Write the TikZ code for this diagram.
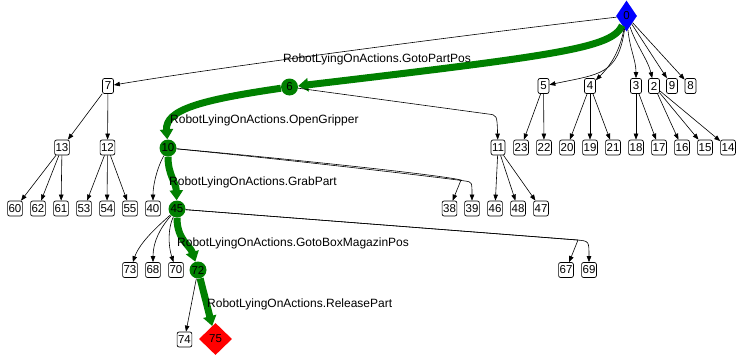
\documentclass[tikz,border=0pt]{standalone}
\usepackage{fontspec}
\setmainfont{Liberation Sans}
\usetikzlibrary{shapes.geometric,arrows.meta}
\definecolor{gvgreen}{RGB}{0,128,0}
\definecolor{gvblue}{RGB}{0,0,255}
\definecolor{gvred}{RGB}{255,0,0}
\begin{document}
\begin{tikzpicture}[x=1pt,y=-1pt,
  nfont/.style={font=\fontsize{11.5}{12}\selectfont},
  box/.style={nfont, draw, rounded corners=2pt, fill=white, minimum height=15pt, minimum width=11pt, inner xsep=1pt, inner ysep=0pt, line width=0.7pt},
  gnode/.style={nfont, circle, fill=gvgreen, minimum size=17pt, inner sep=0pt},
  bdiam/.style={nfont, diamond, fill=gvblue, minimum width=21pt, minimum height=31pt, inner sep=0pt},
  rdiam/.style={nfont, diamond, fill=gvred, minimum width=33pt, minimum height=32pt, inner sep=0pt},
  arr/.style={-{Triangle[length=6pt,width=4.5pt]}, line width=0.6pt},
  garr/.style={-{Triangle[length=10pt,width=13pt]}, line width=7pt, draw=gvgreen, color=gvgreen},
  lbl/.style={anchor=west, font=\fontsize{12}{14}\selectfont, inner sep=0pt}
]
\useasboundingbox (0,0) rectangle (737,356);

% nodes
\node[bdiam] (n0) at (626.5,16) {0};
% row 1
\node[box] (n7) at (108,86) {7};
\node[gnode] (n6) at (289.5,87) {6};
\node[box] (n5) at (543.5,86) {5};
\node[box] (n4) at (590,86) {4};
\node[box] (n3) at (636,86) {3};
\node[box] (n2) at (654,86) {2};
\node[box] (n9) at (672,86) {9};
\node[box] (n8) at (690.5,86) {8};
% row 2
\node[box] (n13) at (62,147.5) {13};
\node[box] (n12) at (107.5,147.5) {12};
\node[gnode] (n10) at (168,148) {10};
\node[box] (n11) at (498,147.5) {11};
\node[box] (n23) at (521,147.5) {23};
\node[box] (n22) at (544,147.5) {22};
\node[box] (n20) at (567,147.5) {20};
\node[box] (n19) at (590,147.5) {19};
\node[box] (n21) at (613,147.5) {21};
\node[box] (n18) at (636,147.5) {18};
\node[box] (n17) at (659,147.5) {17};
\node[box] (n16) at (682,147.5) {16};
\node[box] (n15) at (705,147.5) {15};
\node[box] (n14) at (728,147.5) {14};
% row 3
\node[box] (n60) at (15,208.5) {60};
\node[box] (n62) at (38,208.5) {62};
\node[box] (n61) at (61,208.5) {61};
\node[box] (n53) at (84,208.5) {53};
\node[box] (n54) at (107,208.5) {54};
\node[box] (n55) at (130,208.5) {55};
\node[box] (n40) at (153,208.5) {40};
\node[gnode] (n45) at (177,209) {45};
\node[box] (n38) at (449.5,208.5) {38};
\node[box] (n39) at (472,208.5) {39};
\node[box] (n46) at (495,208.5) {46};
\node[box] (n48) at (518,208.5) {48};
\node[box] (n47) at (541,208.5) {47};
% row 4
\node[box] (n73) at (130,270) {73};
\node[box] (n68) at (153,270) {68};
\node[box] (n70) at (176,270) {70};
\node[gnode] (n72) at (198,270) {72};
\node[box] (n67) at (566,270) {67};
\node[box] (n69) at (589,270) {69};
% row 5
\node[box] (n74) at (184.5,339.5) {74};
\node[rdiam] (n75) at (215.5,339) {75};

% green path
\draw[garr] (n0) .. controls (612,48) and (560,55) .. (n6);
\draw[garr] (n6) .. controls (200,100) and (165,110) .. (n10);
\draw[garr] (n10) .. controls (168,175) and (176,182) .. (n45);
\draw[garr] (n45) .. controls (177,240) and (190,245) .. (n72);
\draw[garr] (n72) -- (n75);

% black edges from 0
\draw[arr] (n0) .. controls (480,33) and (220,67) .. (n7);
\draw[arr] (n0) .. controls (618,75) and (600,74) .. (n5);
\draw[arr] (n0) .. controls (619,55) and (608,68) .. (n4);
\draw[arr] (n0) .. controls (630,50) and (636,60) .. (n3);
\draw[arr] (n0) .. controls (636,45) and (648,60) .. (n2);
\draw[arr] (n0) -- (n9);
\draw[arr] (n0) -- (n8);

% row 1 -> row 2
\draw[arr] (n7) -- (n13);
\draw[arr] (n7) -- (n12);
\draw[arr] (n6) -- (488,114) .. controls (497,115) .. (n11);
\draw[arr] (n5) -- (n23);
\draw[arr] (n5) -- (n22);
\draw[arr] (n4) -- (n20);
\draw[arr] (n4) -- (n19);
\draw[arr] (n4) -- (n21);
\draw[arr] (n3) -- (n18);
\draw[arr] (n3) -- (n17);
\draw[arr] (n2) -- (n16);
\draw[arr] (n2) -- (n15);
\draw[arr] (n2) -- (n14);

% row 2 -> row 3
\draw[arr] (n13) -- (n60);
\draw[arr] (n13) -- (n62);
\draw[arr] (n13) -- (n61);
\draw[arr] (n12) -- (n53);
\draw[arr] (n12) -- (n54);
\draw[arr] (n12) -- (n55);
\draw[arr] (n10) .. controls (157,168) and (153,185) .. (n40);
\draw[arr] (n10) .. controls (300,160) and (440,175) .. (461,180) -- (n38);
\draw[arr] (n10) .. controls (300,161) and (445,178) .. (465,181) .. controls (472,182) .. (n39);
\draw[arr] (n11) -- (n46);
\draw[arr] (n11) -- (n48);
\draw[arr] (n11) -- (n47);

% row 3 -> row 4
\draw[arr] (n45) .. controls (158,226) and (140,242) .. (n73);
\draw[arr] (n45) .. controls (160,228) and (153,242) .. (n68);
\draw[arr] (n45) .. controls (168,228) and (168,245) .. (n70);
\draw[arr] (n45) -- (578,240) -- (n67);
\draw[arr] (n45) -- (577,240) .. controls (589,241) .. (n69);

% row 4 -> row 5
\draw[arr] (n72) -- (n74);

% labels
\node[lbl] (l1) at (283,59) {RobotLyingOnActions.GotoPartPos};
\node[lbl] (l2) at (170,120) {RobotLyingOnActions.OpenGripper};
\node[lbl] (l3) at (169,182) {RobotLyingOnActions.GrabPart};
\node[lbl] (l4) at (177,243) {RobotLyingOnActions.GotoBoxMagazinPos};
\node[lbl] (l5) at (207,304) {RobotLyingOnActions.ReleasePart};
\end{tikzpicture}
\end{document}
